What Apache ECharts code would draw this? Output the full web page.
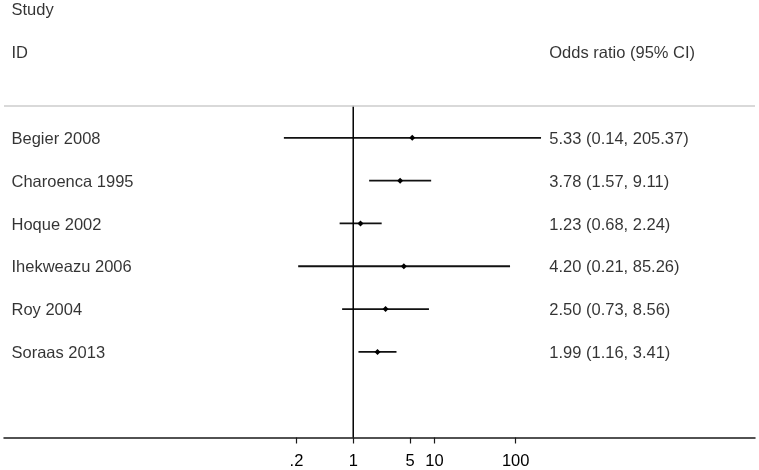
<!DOCTYPE html>
<html>
<head>
<meta charset="utf-8">
<script src="https://cdn.jsdelivr.net/npm/echarts@6/dist/echarts.min.js"></script>
<style>html,body{margin:0;padding:0;background:#fff}#c{width:759px;height:470px}</style>
</head>
<body>
<div id="c"></div>
<script>
const studies = ['Begier 2008', 'Charoenca 1995', 'Hoque 2002', 'Ihekweazu 2006', 'Roy 2004', 'Soraas 2013'];
const oddsRatio = [5.33, 3.78, 1.23, 4.20, 2.50, 1.99];
const ciLow = [0.14, 1.57, 0.68, 0.21, 0.73, 1.16];
const ciHigh = [205.37, 9.11, 2.24, 85.26, 8.56, 3.41];
const tickValues = [0.2, 1, 5, 10, 100];
const tickLabels = ['.2', '1', '5', '10', '100'];
const headerLeft = ['Study', 'ID'];
const headerRight = 'Odds ratio (95% CI)';
const nullValue = 1;

const FONT = "'Liberation Sans', Arial, Helvetica, sans-serif";
const L = Math.log10;
const X_MIN = -4.30, X_MAX = 4.947;
const RIGHT_COL_X = 2.414;
const SEP_ROW = 0.253;

const rows = studies.map((s, i) => i + 1);
const fmtCI = (i) => oddsRatio[i].toFixed(2) + ' (' + ciLow[i].toFixed(2) + ', ' + ciHigh[i].toFixed(2) + ')';

const chart = echarts.init(document.getElementById('c'), null, {renderer: 'canvas'});
const textLabel = {show: true, color: '#000', fontFamily: FONT, fontSize: 16.5, formatter: p => p.data[2]};

chart.setOption({
  animation: false,
  backgroundColor: '#fff',
  grid: {left: 4, right: 4, top: 0, bottom: 32},
  xAxis: {
    type: 'value', min: X_MIN, max: X_MAX, position: 'bottom',
    splitLine: {show: false},
    axisLine: {onZero: false, lineStyle: {color: '#1a1a1a', width: 1.5}},
    axisTick: {show: true, length: 6, lineStyle: {color: '#1a1a1a', width: 1.2}, customValues: tickValues.map(L)},
    axisLabel: {
      customValues: tickValues.map(L), margin: 15.5, color: '#000', fontFamily: FONT, fontSize: 16.5,
      formatter: v => { const k = tickValues.findIndex(t => Math.abs(L(t) - v) < 1e-6); return k >= 0 ? tickLabels[k] : ''; }
    }
  },
  yAxis: {type: 'value', inverse: true, min: -2.22, max: 8, show: false},
  series: [
    {
      type: 'line', data: [[L(nullValue), SEP_ROW], [L(nullValue), 8]], symbol: 'none',
      lineStyle: {color: '#000', width: 1.5}, silent: true,
      markLine: {
        silent: true, symbol: 'none', label: {show: false},
        lineStyle: {color: '#cccccc', width: 1.5, type: 'solid'},
        data: [{yAxis: SEP_ROW}]
      }
    },
    {
      type: 'custom',
      data: studies.map((s, i) => [L(ciLow[i]), L(ciHigh[i]), L(oddsRatio[i]), rows[i]]),
      renderItem: (params, api) => {
        const a = api.coord([api.value(0), api.value(3)]);
        const b = api.coord([api.value(1), api.value(3)]);
        const c = api.coord([api.value(2), api.value(3)]);
        const d = 3;
        return {
          type: 'group', children: [
            {type: 'line', shape: {x1: a[0], y1: a[1], x2: b[0], y2: b[1]}, style: {stroke: '#111', lineWidth: 1.8}},
            {type: 'polygon', shape: {points: [[c[0], c[1] - d], [c[0] + d, c[1]], [c[0], c[1] + d], [c[0] - d, c[1]]]}, style: {fill: '#000'}}
          ]
        };
      }
    },
    {
      type: 'scatter', symbolSize: 0,
      data: studies.map((s, i) => [X_MIN, rows[i], s]).concat(headerLeft.map((h, i) => [X_MIN, i - 2, h])),
      label: Object.assign({position: 'right', distance: 7.5, offset: [0, 1.5]}, textLabel)
    },
    {
      type: 'scatter', symbolSize: 0,
      data: studies.map((s, i) => [RIGHT_COL_X, rows[i], fmtCI(i)]).concat([[RIGHT_COL_X, -1, headerRight]]),
      label: Object.assign({position: 'right', distance: 0, offset: [0, 1.5]}, textLabel)
    }
  ]
});
</script>
</body>
</html>
